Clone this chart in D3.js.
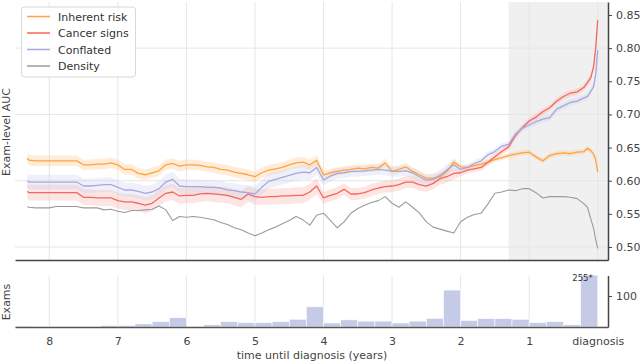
<!DOCTYPE html>
<html><head><meta charset="utf-8">
<script src="https://cdn.jsdelivr.net/npm/d3@7"></script>
<style>body{margin:0;background:#fff} svg{display:block} text{font-family:"DejaVu Sans",sans-serif}</style>
</head><body><svg id="c" width="640" height="362"></svg>
<script>
// ---- data ----
const years = [8.32, 8.3,
  8.2, 8.1, 8.0,
  7.9, 7.8, 7.7, 7.6, 7.5, 7.4, 7.3, 7.2, 7.1, 7.0,
  6.9, 6.8, 6.7, 6.6, 6.5, 6.4, 6.3, 6.2, 6.1, 6.0,
  5.9, 5.8, 5.7, 5.6, 5.5, 5.4, 5.3, 5.2, 5.1, 5.0,
  4.9, 4.8, 4.7, 4.6, 4.5, 4.4, 4.3, 4.2, 4.1, 4.0,
  3.9, 3.8, 3.7, 3.6, 3.5, 3.4, 3.3, 3.2, 3.1, 3.0,
  2.9, 2.8, 2.7, 2.6, 2.5, 2.4, 2.3, 2.2, 2.1, 2.0,
  1.9, 1.8, 1.7, 1.6, 1.5, 1.4, 1.3, 1.2, 1.1, 1.0,
  0.9, 0.8, 0.7, 0.6, 0.5, 0.4, 0.3, 0.2,
  0.15, 0.1, 0.06, 0.03, 0.0];

const inherentRisk = [0.634, 0.631,
  0.630, 0.630, 0.630,
  0.630, 0.630, 0.630, 0.630, 0.624, 0.624, 0.625, 0.625, 0.627, 0.624,
  0.617, 0.617, 0.611, 0.609, 0.612, 0.615, 0.624, 0.626, 0.622, 0.624,
  0.624, 0.623, 0.621, 0.620, 0.617, 0.616, 0.613, 0.611, 0.609, 0.606,
  0.612, 0.616, 0.618, 0.620, 0.624, 0.627, 0.628, 0.624, 0.631, 0.609,
  0.612, 0.614, 0.616, 0.617, 0.619, 0.618, 0.620, 0.619, 0.627, 0.614,
  0.617, 0.621, 0.614, 0.609, 0.604, 0.604, 0.606, 0.614, 0.628, 0.621,
  0.620, 0.623, 0.625, 0.628, 0.632, 0.635, 0.638, 0.640, 0.642, 0.643,
  0.636, 0.630, 0.638, 0.641, 0.642, 0.641, 0.643, 0.644,
  0.649, 0.645, 0.640, 0.632, 0.613];

const cancerSigns = [0.584, 0.582,
  0.582, 0.582, 0.582,
  0.582, 0.582, 0.582, 0.582, 0.575, 0.575, 0.574, 0.574, 0.574, 0.570,
  0.568, 0.568, 0.566, 0.563, 0.566, 0.574, 0.581, 0.583, 0.577, 0.578,
  0.578, 0.580, 0.581, 0.580, 0.579, 0.578, 0.575, 0.572, 0.580, 0.576,
  0.575, 0.576, 0.576, 0.577, 0.577, 0.578, 0.578, 0.583, 0.592, 0.574,
  0.578, 0.581, 0.587, 0.580, 0.580, 0.582, 0.586, 0.589, 0.591, 0.592,
  0.594, 0.598, 0.598, 0.594, 0.592, 0.596, 0.603, 0.606, 0.611, 0.612,
  0.616, 0.618, 0.620, 0.628, 0.636, 0.644, 0.651, 0.668, 0.680, 0.690,
  0.696, 0.704, 0.710, 0.720, 0.727, 0.732, 0.734, 0.741,
  0.748, 0.756, 0.772, 0.800, 0.842];

const conflated = [0.600, 0.598,
  0.598, 0.598, 0.598,
  0.598, 0.598, 0.598, 0.598, 0.592, 0.592, 0.593, 0.594, 0.594, 0.590,
  0.586, 0.586, 0.584, 0.581, 0.583, 0.588, 0.598, 0.602, 0.592, 0.591,
  0.591, 0.591, 0.590, 0.590, 0.589, 0.586, 0.585, 0.583, 0.582, 0.580,
  0.590, 0.599, 0.602, 0.605, 0.608, 0.611, 0.613, 0.612, 0.620, 0.601,
  0.607, 0.611, 0.612, 0.614, 0.614, 0.615, 0.616, 0.617, 0.616, 0.614,
  0.614, 0.615, 0.612, 0.606, 0.601, 0.602, 0.608, 0.616, 0.624, 0.617,
  0.620, 0.626, 0.630, 0.639, 0.644, 0.652, 0.655, 0.670, 0.679, 0.684,
  0.689, 0.693, 0.695, 0.708, 0.713, 0.718, 0.720, 0.725,
  0.727, 0.735, 0.742, 0.760, 0.797];

const density = [0.561, 0.560,
  0.559, 0.559, 0.559,
  0.561, 0.561, 0.561, 0.561, 0.559, 0.559, 0.559, 0.556, 0.557, 0.554,
  0.552, 0.555, 0.555, 0.556, 0.557, 0.562, 0.556, 0.540, 0.546, 0.545,
  0.546, 0.545, 0.543, 0.541, 0.537, 0.534, 0.529, 0.526, 0.521, 0.517,
  0.521, 0.526, 0.530, 0.535, 0.540, 0.546, 0.541, 0.533, 0.548, 0.551,
  0.540, 0.529, 0.538, 0.551, 0.558, 0.563, 0.567, 0.570, 0.576, 0.566,
  0.560, 0.568, 0.560, 0.551, 0.538, 0.530, 0.527, 0.524, 0.521, 0.538,
  0.545, 0.549, 0.551, 0.565, 0.581, 0.583, 0.586, 0.585, 0.588, 0.588,
  0.582, 0.574, 0.576, 0.576, 0.576, 0.575, 0.573, 0.565,
  0.560, 0.542, 0.528, 0.511, 0.498];

// confidence half-widths, before 4 y / 4-2 y / after 2 y
const ciBreakYears = [4.0, 2.0];
const ciInherent = [0.008, 0.006, 0.004];
const ciCancer = [0.012, 0.009, 0.005];
const ciConflated = [0.011, 0.008, 0.005];

// histogram: exams per 3-month bin, from 8.5 years down to diagnosis
const binWidthYears = 0.25;
const examCounts = [3, 1, 2, 2, 2, 5, 5, 10, 17, 30,
  0, 7, 17, 14, 14, 17, 25, 65, 13, 23,
  19, 19, 13, 19, 28, 119, 21, 27, 27, 25,
  14, 17, 7, 255];

const seriesNames = ["Inherent risk", "Cancer signs", "Conflated", "Density"];
const xTickValues = [8, 7, 6, 5, 4, 3, 2, 1, 0];
const xTickLabels = ["8", "7", "6", "5", "4", "3", "2", "1", "diagnosis"];
const aucTicks = [0.50, 0.55, 0.60, 0.65, 0.70, 0.75, 0.80, 0.85];
const aucGrid = [0.50, 0.60, 0.70, 0.80];
const examTicks = [100];

// ---- drawing ----
const svg = d3.select("#c");
const x = d3.scaleLinear().domain([8.5, -0.15]).range([15, 608]);
const y = d3.scaleLinear().domain([0.4804, 0.8696]).range([260, 2]);
const yh = d3.scaleLinear().domain([0, 166]).range([327, 275.5]);

const colors = ["#ffa23f", "#f5675d", "#a6a9db", "#9b9b9b"];
const bandColors = ["#ffc98c", "#f9b0aa", "#cfd1ee"];

svg.append("defs").append("clipPath").attr("id", "clipMain")
  .append("rect").attr("x", 15).attr("y", 2).attr("width", 593).attr("height", 258);
svg.select("defs").append("clipPath").attr("id", "clipHist")
  .append("rect").attr("x", 15).attr("y", 275.5).attr("width", 593).attr("height", 51.5);

// shaded region in final 1.3 years
svg.append("rect").attr("x", x(1.3)).attr("y", 2)
  .attr("width", x(-0.15) - x(1.3)).attr("height", 258).attr("fill", "#f0f0f0");

// grids
const grid = svg.append("g").attr("stroke", "#e6e6e6").attr("stroke-width", 1);
xTickValues.forEach(v => {
  grid.append("line").attr("x1", x(v)).attr("x2", x(v)).attr("y1", 2).attr("y2", 260);
  grid.append("line").attr("x1", x(v)).attr("x2", x(v)).attr("y1", 275.5).attr("y2", 327);
});
aucGrid.forEach(v => {
  grid.append("line").attr("x1", 15).attr("x2", 608).attr("y1", y(v)).attr("y2", y(v));
});

const ciAt = (arr, yr) => yr > ciBreakYears[0] ? arr[0] : (yr > ciBreakYears[1] ? arr[1] : arr[2]);
const series = [
  {name: seriesNames[0], vals: inherentRisk, ci: ciInherent},
  {name: seriesNames[1], vals: cancerSigns, ci: ciCancer},
  {name: seriesNames[2], vals: conflated, ci: ciConflated},
  {name: seriesNames[3], vals: density, ci: null}
];

const plot = svg.append("g").attr("clip-path", "url(#clipMain)");
series.forEach((s, i) => {
  const pts = years.map((yr, k) => ({yr, v: s.vals[k]}));
  if (s.ci) {
    const area = d3.area().x(d => x(d.yr))
      .y0(d => y(d.v - ciAt(s.ci, d.yr))).y1(d => y(d.v + ciAt(s.ci, d.yr)))
      .curve(d3.curveLinear);
    plot.append("path").datum(pts).attr("d", area)
      .attr("fill", bandColors[i]).attr("fill-opacity", 0.33);
  }
});
series.forEach((s, i) => {
  const pts = years.map((yr, k) => ({yr, v: s.vals[k]}));
  const line = d3.line().x(d => x(d.yr)).y(d => y(d.v));
  plot.append("path").datum(pts).attr("d", line)
    .attr("fill", "none").attr("stroke", colors[i])
    .attr("stroke-width", i === 3 ? 1.1 : 1.3).attr("stroke-linejoin", "round");
});

// main axes
const axRight = svg.append("g").attr("transform", "translate(608,0)")
  .call(d3.axisRight(y).tickValues(aucTicks).tickFormat(d3.format(".2f")).tickSize(4).tickSizeOuter(0).tickPadding(4));
const axBottomMain = svg.append("g").attr("transform", "translate(0,260)")
  .call(d3.axisBottom(x).tickValues([]).tickSizeOuter(0));

// histogram
const hist = svg.append("g").attr("clip-path", "url(#clipHist)");
hist.selectAll("rect").data(examCounts).join("rect")
  .attr("x", (d, i) => x(8.5 - i * binWidthYears))
  .attr("width", (d, i) => x(8.5 - (i + 1) * binWidthYears) - x(8.5 - i * binWidthYears))
  .attr("y", d => yh(d))
  .attr("height", d => yh(0) - yh(d))
  .attr("fill", "#c5cae6").attr("stroke", "#ffffff").attr("stroke-width", 0.6);

const last = examCounts.length - 1;
svg.append("text").attr("x", x(8.5 - (last + 1) * binWidthYears) - 5).attr("y", 280.5)
  .attr("text-anchor", "end").attr("font-size", 8.5).attr("fill", "#333")
  .text(examCounts[last] + "*");

const axRightH = svg.append("g").attr("transform", "translate(608,0)")
  .call(d3.axisRight(yh).tickValues(examTicks).tickSize(4).tickSizeOuter(0).tickPadding(4));
const axBottomH = svg.append("g").attr("transform", "translate(0,327)")
  .call(d3.axisBottom(x).tickValues(xTickValues).tickFormat((d, i) => xTickLabels[i]).tickSize(0).tickSizeOuter(0).tickPadding(10));

[axRight, axBottomMain, axRightH, axBottomH].forEach(g => {
  g.select(".domain").attr("stroke", "#444").attr("stroke-width", 1.5);
  g.selectAll(".tick line").attr("stroke", "#444");
  g.selectAll(".tick text").attr("fill", "#444").attr("font-size", 11)
    .attr("font-family", "DejaVu Sans");
});
axBottomH.select(".domain").attr("stroke", "#555");

// labels
svg.append("text").attr("x", 312).attr("y", 358.5).attr("text-anchor", "middle")
  .attr("font-size", 11).attr("fill", "#444").text("time until diagnosis (years)");
svg.append("text").attr("transform", "translate(9.5,132) rotate(-90)").attr("text-anchor", "middle")
  .attr("font-size", 11).attr("fill", "#444").text("Exam-level AUC");
svg.append("text").attr("transform", "translate(10,302) rotate(-90)").attr("text-anchor", "middle")
  .attr("font-size", 11).attr("fill", "#444").text("Exams");

// legend
const lg = svg.append("g");
lg.append("rect").attr("x", 21.5).attr("y", 7).attr("width", 114).attr("height", 70).attr("rx", 3)
  .attr("fill", "#fff").attr("fill-opacity", 0.85).attr("stroke", "#d8d8d8");
seriesNames.forEach((n, i) => {
  const yy = 16.5 + i * 16.5;
  lg.append("line").attr("x1", 27).attr("x2", 50).attr("y1", yy).attr("y2", yy)
    .attr("stroke", colors[i]).attr("stroke-width", 1.5);
  lg.append("text").attr("x", 58).attr("y", yy + 4).attr("font-size", 11).attr("fill", "#333").text(n);
});
</script>
</body></html>
